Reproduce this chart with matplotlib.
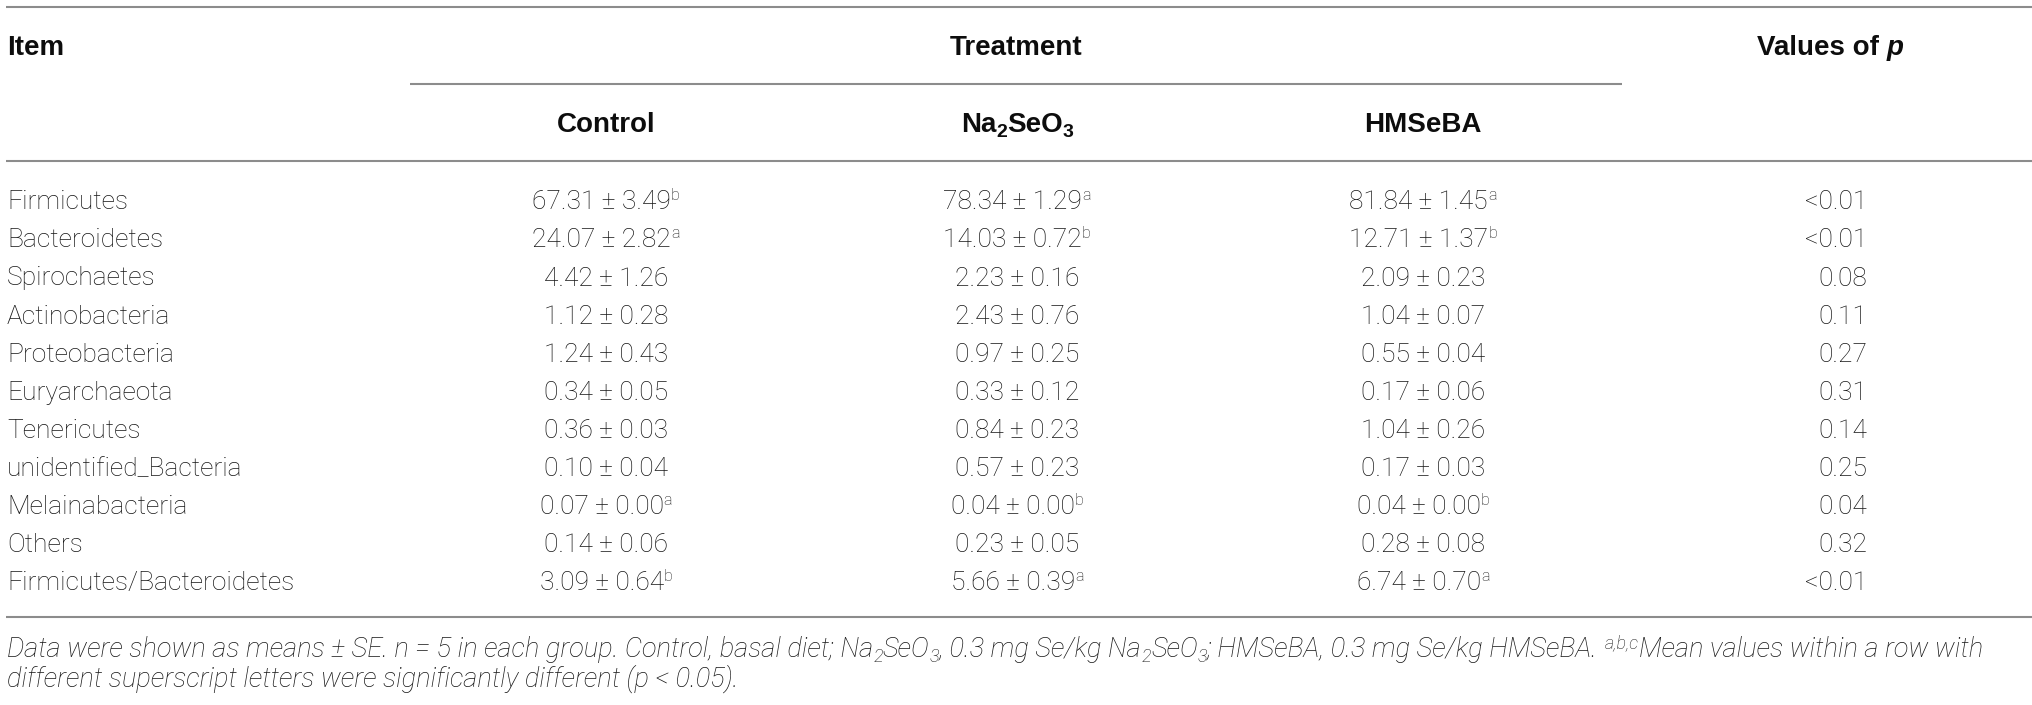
import matplotlib
matplotlib.use("Agg")
import matplotlib.pyplot as plt

# ---------------- data ----------------
items = ["Firmicutes", "Bacteroidetes", "Spirochaetes", "Actinobacteria",
         "Proteobacteria", "Euryarchaeota", "Tenericutes", "unidentified_Bacteria",
         "Melainabacteria", "Others", "Firmicutes/Bacteroidetes"]

control_mean = [67.31, 24.07, 4.42, 1.12, 1.24, 0.34, 0.36, 0.10, 0.07, 0.14, 3.09]
control_se   = [3.49, 2.82, 1.26, 0.28, 0.43, 0.05, 0.03, 0.04, 0.00, 0.06, 0.64]
control_sup  = ["b", "a", "", "", "", "", "", "", "a", "", "b"]

na2seo3_mean = [78.34, 14.03, 2.23, 2.43, 0.97, 0.33, 0.84, 0.57, 0.04, 0.23, 5.66]
na2seo3_se   = [1.29, 0.72, 0.16, 0.76, 0.25, 0.12, 0.23, 0.23, 0.00, 0.05, 0.39]
na2seo3_sup  = ["a", "b", "", "", "", "", "", "", "b", "", "a"]

hmseba_mean = [81.84, 12.71, 2.09, 1.04, 0.55, 0.17, 1.04, 0.17, 0.04, 0.28, 6.74]
hmseba_se   = [1.45, 1.37, 0.23, 0.07, 0.04, 0.06, 0.26, 0.03, 0.00, 0.08, 0.70]
hmseba_sup  = ["a", "b", "", "", "", "", "", "", "b", "", "a"]

p_values = ["<0.01", "<0.01", "0.08", "0.11", "0.27", "0.31", "0.14", "0.25",
            "0.04", "0.32", "<0.01"]

# ---------------- styles ----------------
TXT = "#161616"
LINE = "#8c8c8c"
BODY = dict(fontfamily=["Roboto", "DejaVu Sans"], fontweight="light", fontsize=19, color=TXT)
BODY_SUP = dict(BODY, fontsize=11.5)
HEAD = dict(fontfamily=["Liberation Sans", "DejaVu Sans"], fontweight="bold", fontsize=20, color="#0d0d0d")
HEAD_SUB = dict(HEAD, fontsize=14)
HEAD_IT = dict(HEAD, fontstyle="italic")
FOOT = dict(fontfamily=["Roboto", "DejaVu Sans"], fontweight="light", fontstyle="italic",
            fontsize=19.6, color=TXT)
FOOT_SUB = dict(FOOT, fontsize=13)

W, H = 2032, 705
fig = plt.figure(figsize=(W / 100, H / 100), dpi=100)
ax = fig.add_axes([0, 0, 1, 1])
ax.set_xlim(0, W)
ax.set_ylim(H, 0)
ax.axis("off")
R = fig.canvas.get_renderer()

_bar_cache = {}


def measure(s, st):
    key = tuple(sorted((k, str(v)) for k, v in st.items()))
    if key not in _bar_cache:
        t = ax.text(0, 0, "||", **st)
        _bar_cache[key] = t.get_window_extent(R).width
        t.remove()
    t = ax.text(0, 0, "|" + s + "|", **st)
    w = t.get_window_extent(R).width
    t.remove()
    return w - _bar_cache[key]


def runs(x, y, parts, ha="left"):
    widths = [measure(s, st) for s, st, _ in parts]
    total = sum(widths)
    x0 = x - total / 2 if ha == "center" else (x - total if ha == "right" else x)
    for (s, st, shift), w in zip(parts, widths):
        ax.text(x0, y - shift, s, ha="left", va="baseline", **st)
        x0 += w


# ---------------- rules ----------------
ax.plot([6, W], [7, 7], color=LINE, lw=1.5, solid_capstyle="butt")
ax.plot([410, 1622], [84, 84], color=LINE, lw=1.5, solid_capstyle="butt")
ax.plot([6, W], [161, 161], color=LINE, lw=1.5, solid_capstyle="butt")
ax.plot([6, W], [617, 617], color=LINE, lw=1.5, solid_capstyle="butt")

# ---------------- header ----------------
col_x = [606, 1017, 1423]
p_center = 1830
p_right = 1867

runs(7, 55, [("Item", HEAD, 0)])
runs(1016, 55, [("Treatment", HEAD, 0)], ha="center")
runs(p_center, 55, [("Values of ", HEAD, 0), ("p", HEAD_IT, 0)], ha="center")
runs(col_x[0], 132, [("Control", HEAD, 0)], ha="center")
runs(col_x[1], 132, [("Na", HEAD, 0), ("2", HEAD_SUB, -5), ("SeO", HEAD, 0), ("3", HEAD_SUB, -5)],
     ha="center")
runs(col_x[2], 132, [("HMSeBA", HEAD, 0)], ha="center")

# ---------------- body ----------------
groups = [(control_mean, control_se, control_sup),
          (na2seo3_mean, na2seo3_se, na2seo3_sup),
          (hmseba_mean, hmseba_se, hmseba_sup)]

row0, dy = 209.3, 38.1
for i, name in enumerate(items):
    yb = row0 + dy * i
    runs(7, yb, [(name, BODY, 0)])
    for cx, (means, ses, sups) in zip(col_x, groups):
        parts = [(f"{means[i]:.2f} ± {ses[i]:.2f}", BODY, 0)]
        if sups[i]:
            parts.append((sups[i], BODY_SUP, 9.5))
        runs(cx, yb, parts, ha="center")
    runs(p_right, yb, [(p_values[i], BODY, 0)], ha="right")

# ---------------- footnote ----------------
runs(7, 657, [
    ("Data were shown as means ± SE. n = 5 in each group. Control, basal diet; Na", FOOT, 0),
    ("2", FOOT_SUB, -5), ("SeO", FOOT, 0), ("3", FOOT_SUB, -5),
    (", 0.3 mg Se/kg Na", FOOT, 0), ("2", FOOT_SUB, -5), ("SeO", FOOT, 0), ("3", FOOT_SUB, -5),
    ("; HMSeBA, 0.3 mg Se/kg HMSeBA. ", FOOT, 0), ("a,b,c", FOOT_SUB, 9),
    ("Mean values within a row with", FOOT, 0),
])
runs(7, 687, [("different superscript letters were significantly different (p < 0.05).", FOOT, 0)])

fig.savefig("out.png", dpi=100, facecolor="white")
